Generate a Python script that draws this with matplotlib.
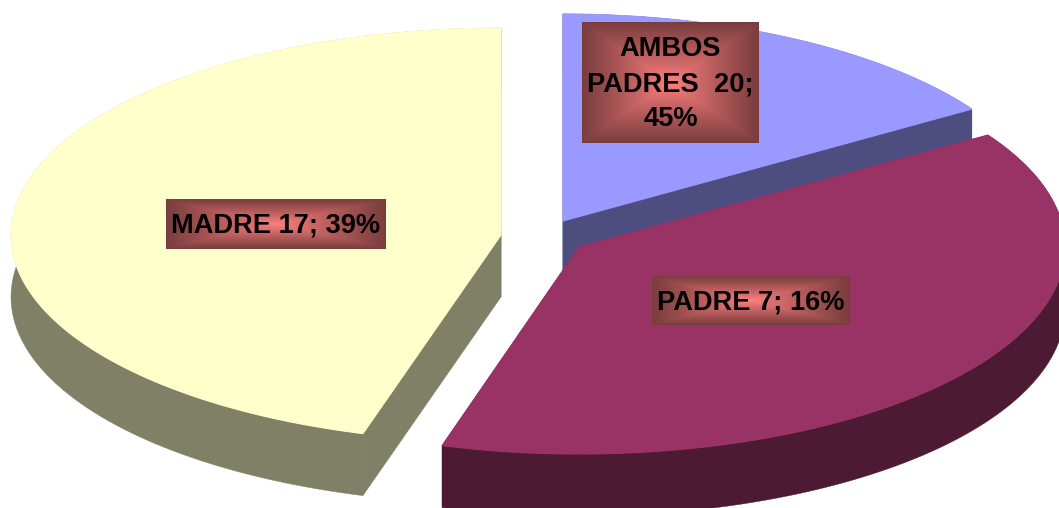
import numpy as np
import matplotlib
matplotlib.use('Agg')
import matplotlib.pyplot as plt

# slice sizes as drawn, clockwise from the top
slice_values = [7, 17, 20]
slice_colors = ['#9999ff', '#993366', '#ffffcc']
side_colors = ['#4d4d80', '#4d1a33', '#808066']

# the labels in the original do not agree with the slices they sit on
label_names = ['AMBOS\nPADRES  20;\n45%', 'PADRE 7; 16%', 'MADRE 17; 39%']

# pixel layout
centers = [(563, 221), (579, 247), (501, 235)]
radii_x = [486, 486, 490]
label_boxes = [(582, 759, 22, 143), (652, 850, 276, 325), (166, 386, 199, 249)]
ry = 207
depth = 62

plt.rcParams['font.family'] = ['Liberation Sans', 'DejaVu Sans']

fig = plt.figure(figsize=(10.59, 5.08), dpi=100)
ax = fig.add_axes([0, 0, 1, 1])
ax.set_xlim(0, 1059)
ax.set_ylim(508, 0)
ax.axis('off')


def arc(cx, cy, rx, a0, a1):
    t = np.radians(np.linspace(a0, a1, 200))
    return cx + rx * np.cos(t), cy - ry * np.sin(t)


def draw_slice(center, rx, a0, a1, top, side):
    cx, cy = center
    x, y = arc(cx, cy, rx, a0, a1)
    # rim, then the two cut faces, then the top on them
    ax.fill(np.r_[x, x[::-1]], np.r_[y, y[::-1] + depth], color=side, lw=0.3, zorder=2)
    for ex, ey in [(x[0], y[0]), (x[-1], y[-1])]:
        ax.fill([cx, ex, ex, cx], [cy, ey, ey + depth, cy + depth], color=side, lw=0.3, zorder=2)
    ax.fill(np.r_[cx, x], np.r_[cy, y], color=top, lw=0.8, zorder=2)


def draw_label(text, box):
    x0, x1, y0, y1 = box
    u = np.abs(np.linspace(-1, 1, x1 - x0))
    v = np.abs(np.linspace(-1, 1, y1 - y0))
    t = np.maximum(*np.meshgrid(u, v)) ** 0.9
    t = t[..., None]
    img = (1 - t) * np.array([255, 128, 128]) + t * np.array([122, 61, 61])
    ax.imshow(img.astype(np.uint8), extent=(x0, x1, y1, y0), aspect='auto',
              interpolation='bilinear', zorder=3)
    ax.text((x0 + x1) / 2, (y0 + y1) / 2 + 1.5, text, ha='center', va='center',
            fontsize=19.6, fontweight='bold', color='black', linespacing=1.45, zorder=4)


angle = 90
total = sum(slice_values)
for i in range(len(slice_values)):
    sweep = 360 * slice_values[i] / total
    draw_slice(centers[i], radii_x[i], angle - sweep, angle, slice_colors[i], side_colors[i])
    angle -= sweep

for i in range(len(label_names)):
    draw_label(label_names[i], label_boxes[i])

ax.set_xlim(0, 1059)
ax.set_ylim(508, 0)
fig.savefig('out.png', dpi=100)
